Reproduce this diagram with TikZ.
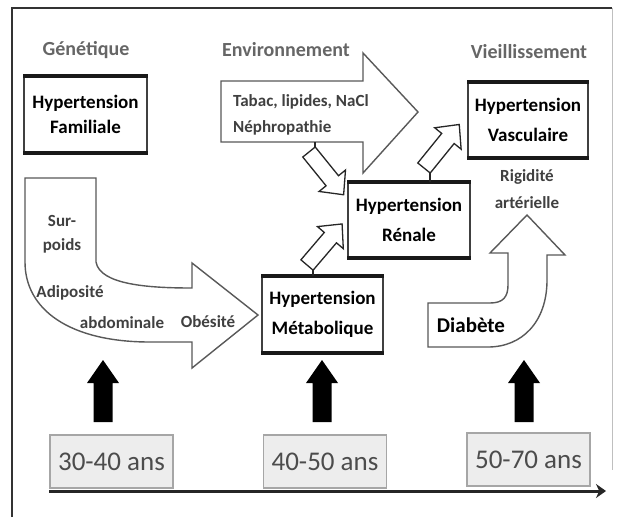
\documentclass[tikz,border=0pt]{standalone}
\usepackage{fontspec}
\setmainfont{Carlito}
\usetikzlibrary{arrows.meta}
\newcommand\myHfont{\fontsize{19}{30}\selectfont\bfseries}
\newcommand\myHfontB{\fontsize{19}{25}\selectfont\bfseries}
\newcommand\myHeadfont{\fontsize{20}{24}\selectfont\bfseries}
\newcommand\myLabfont{\fontsize{17}{24}\selectfont\bfseries}
\newcommand\myDiafont{\fontsize{21}{24}\selectfont\bfseries}
\newcommand\myAgefont{\fontsize{27}{30}\selectfont}
\newcommand\hollowarrow[3]{%
  \begin{scope}[shift={#1}, rotate=#2]
    \draw[hollow] (0,-8) -- ({#3-18},-8) -- ({#3-18},-17) -- (#3,0) -- ({#3-18},17) -- ({#3-18},8) -- (0,8) -- cycle;
  \end{scope}}
\newcommand\blackup[1]{%
  \fill[black] (#1-9.5,422) -- (#1-9.5,383) -- (#1-16,383) -- (#1,360) -- (#1+16,383) -- (#1+9.5,383) -- (#1+9.5,422) -- cycle;}
\tikzset{
  hbox/.style={draw=black!75, line width=1.8pt, fill=white, align=center, font=\myHfont, inner sep=0pt},
  hedge/.style={draw=black!90, line width=3.4pt},
  head/.style={text=black!60, font=\myHeadfont, inner sep=0pt},
  lab/.style={text=black!75, font=\myLabfont, inner sep=0pt, align=center},
  agebox/.style={draw=black!35, fill=black!7, line width=1.2pt, font=\myAgefont, text=black!70, inner sep=0pt, minimum width=123pt, minimum height=53pt},
  hollow/.style={draw=black!85, line width=1.3pt, fill=white},
  bigshape/.style={draw=black!65, line width=1.4pt, fill=white},
  stem/.style={draw=black!85, line width=1.3pt},
}
\begin{document}
\begin{tikzpicture}[x=1pt, y=-1pt]
\useasboundingbox (0,0) rectangle (617,517);
\fill[white] (0,0) rectangle (617,517);
% frame
\draw[black!80, line width=1.3pt] (12,517) -- (12,8) -- (612,8);
\draw[black!25, line width=0.8pt] (612,8) -- (612,470);

% headings
\node[head] (gen) at (86,50) {Génétique};
\node[head] (env) at (286,50) {Environnement};
\node[head] (vie) at (529,52) {Vieillissement};

% environment big arrow
\draw[bigshape] (221,81) -- (363,81) -- (363,53) -- (418,112) -- (363,173) -- (363,142) -- (221,142) -- cycle;
\node[lab, anchor=west] (tab) at (233,102) {Tabac, lipides, NaCl};
\node[lab, anchor=west] (nep) at (233,128) {Néphropathie};

% sur-poids bent arrow
\draw[bigshape] (25,178) -- (96,178) -- (96,262) .. controls (100,285) and (150,288) .. (192,288) -- (192,263) -- (258,315) -- (192,368) -- (192,342) -- (150,342) .. controls (70,342) and (25,310) .. (25,262) -- cycle;
\node[lab] (sur) at (62,234) {Sur-\\poids};
\node[lab] (adi) at (70,293) {Adiposité};
\node[lab] (abd) at (122,323) {abdominale};
\node[lab] (obe) at (208,322) {Obésité};

% diabete bent arrow
\draw[bigshape] (428,303) -- (490,303) .. controls (503,303) and (508,297) .. (508,285) -- (508,253) -- (490,253) -- (527,215) -- (565,255) -- (547,255) -- (547,280) .. controls (547,322) and (522,347) .. (488,347) -- (428,347) -- cycle;
\node[lab, text=black, font=\myDiafont] (dia) at (471,325) {Diabète};
\node[lab] (rig) at (527,177) {Rigidité};
\node[lab] (art) at (527,203) {artérielle};

% hypertension boxes
\node[hbox, font=\myHfontB, minimum width=123pt, minimum height=75pt] (fam) at (85.5,114.5) {Hypertension\\Familiale};
\node[hbox, minimum width=120pt, minimum height=74pt] (vas) at (528,120) {Hypertension\\Vasculaire};
\node[hbox, minimum width=122pt, minimum height=74pt] (ren) at (409,220) {Hypertension\\Rénale};
\node[hbox, minimum width=121pt, minimum height=75pt] (met) at (322.5,314.5) {Hypertension\\Métabolique};
\foreach \b in {fam,vas,ren,met}{
  \draw[hedge] (\b.north west) -- (\b.north east);
  \draw[hedge] (\b.south west) -- (\b.south east);
}

% small hollow arrows with stems
\coordinate (s1a) at (315,142); \coordinate (s1b) at (315,147);
\coordinate (s2a) at (met.north -| 313,0); \coordinate (s2b) at (313,270);
\coordinate (s3a) at (ren.north -| 430,0); \coordinate (s3b) at (430,173);
\draw[stem] (s1a) -- (s1b);
\draw[stem] (s2a) -- (s2b);
\draw[stem] (s3a) -- (s3b);
\hollowarrow{(309,152)}{-51}{55}
\hollowarrow{(307,265)}{49.5}{54}
\hollowarrow{(424,168)}{51}{56}

% black arrows
\blackup{103}
\blackup{322}
\blackup{524}

% age boxes
\node[agebox] (a1) at (111.5,461.5) {30-40 ans};
\node[agebox] (a2) at (325,461.5) {40-50 ans};
\node[agebox] (a3) at (528.5,459.5) {50-70 ans};

% axis
\coordinate (ax0) at (49,491);
\coordinate (ax1) at (606,491);
\draw[black!85, line width=3pt, -{Stealth[length=10pt, width=14pt]}] (ax0) -- (ax1);
\end{tikzpicture}
\end{document}
